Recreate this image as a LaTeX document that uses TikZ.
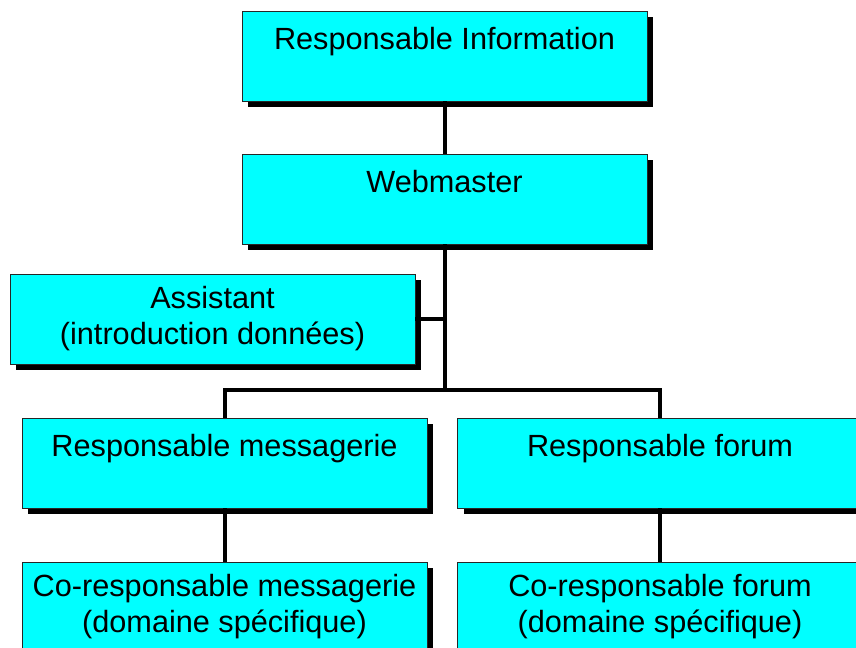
\documentclass[tikz,border=0pt]{standalone}
\usepackage{fontspec}
\setmainfont{Liberation Sans}
\usepackage{tikz}
\usetikzlibrary{shadows}
\definecolor{postecyan}{RGB}{0,255,255}

\tikzset{
  poste/.style={draw=black!85, line width=0.6pt, fill=postecyan,
    minimum width=303.75pt, minimum height=67.5pt, inner sep=0pt,
    align=center, font=\fontsize{23}{27}\selectfont,
    drop shadow={shadow xshift=4.5pt, shadow yshift=-4.5pt, fill=black, opacity=1}},
  lien/.style={line width=3pt}
}

\begin{document}
\begin{tikzpicture}[x=0.75pt,y=-0.75pt]
\useasboundingbox (0,0) rectangle (856,648);
\node[poste] (info) at (444.5,56) {Responsable Information\\\mbox{}};
\node[poste] (web) at (444.5,199) {Webmaster\\\mbox{}};
\node[poste] (assist) at (212.5,319) {Assistant\\(introduction données)};
\node[poste] (msg) at (224.5,463) {Responsable messagerie\\\mbox{}};
\node[poste] (forum) at (660,463) {Responsable forum\\\mbox{}};
\node[poste] (comsg) at (224.5,607) {Co-responsable messagerie\\(domaine spécifique)};
\node[poste] (coforum) at (660,607) {Co-responsable forum\\(domaine spécifique)};
\coordinate (junc) at (444.5,390);
\draw[lien] (info) -- (web);
\draw[lien] (web) -- (junc);
\draw[lien] (assist) -- (assist -| junc);
\draw[lien] (msg) |- (junc) -| (forum);
\draw[lien] (msg) -- (comsg);
\draw[lien] (forum) -- (coforum);
\end{tikzpicture}
\end{document}
